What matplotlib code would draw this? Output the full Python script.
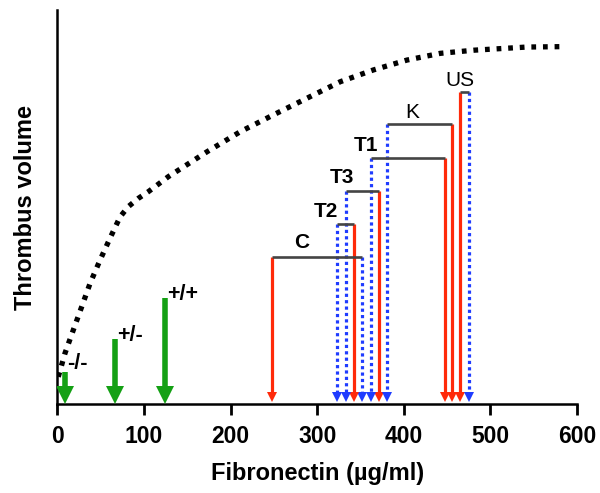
import numpy as np
import matplotlib
matplotlib.use('Agg')
import matplotlib.pyplot as plt

plt.rcParams['font.family'] = ['Liberation Sans', 'DejaVu Sans']

# dotted black curve (fibronectin vs thrombus volume)
curve_x = [0.9, 8.7, 18.3, 28, 37.6, 49.1, 60.7, 72.3, 81.8, 93.4, 105, 128,
           172.5, 211, 249.5, 288, 326.6, 365, 403.7, 442, 481, 542, 581]
curve_y = [6.9, 12.9, 18.8, 24.7, 30.6, 36.5, 42.1, 47.5, 50.1, 52.2, 53.9, 57.7,
           64, 69.1, 73.4, 77.6, 81.8, 84.8, 87.3, 89, 89.8, 90.6, 90.7]

# green arrows (genotypes)
geno_labels = ['-/-', '+/-', '+/+']
geno_x = [9, 67, 124]
geno_top = [8.2, 16.4, 27]
geno_label_x = [11, 69, 126.5]
geno_label_y = [10.4, 17.3, 27.7]

# paired red (solid) and blue (dotted) arrows joined by a black bar
pair_labels = ['C', 'T2', 'T3', 'T1', 'K', 'US']
pair_bold = [True, True, True, True, False, False]
red_x = [248, 342, 371, 447, 456, 465]
blue_x = [352, 323, 333, 362, 381, 475]
bar_y = [37.4, 45.7, 54.1, 62.5, 71, 79.1]
label_x = [282, 309.5, 328.3, 356.8, 409.6, 465.1]
label_y = [40.9, 48.8, 57.4, 65.7, 73.9, 82.2]

red = '#ff2a0a'
blue = '#1f3cff'
green = '#14a014'

fig = plt.figure(figsize=(6, 4.93), dpi=100)
ax = fig.add_axes([0.0958, 0.1805, 0.8659, 0.7992])

ax.plot(curve_x, curve_y, color='black', lw=3.8, linestyle=(0, (0.9, 1.3)),
        dash_capstyle='butt', solid_capstyle='butt', zorder=2)

head = 1.8
for x, top, lab, lx, ly in zip(geno_x, geno_top, geno_labels, geno_label_x, geno_label_y):
    ax.plot([x, x], [top, 4.5], color=green, lw=4, solid_capstyle='butt', zorder=3)
    ax.plot([x], [2.3], marker='v', ms=12.5, color=green, mec=green, mew=0, zorder=3)
    ax.text(lx, ly, lab, ha='left', va='center', fontsize=15.5, fontweight='bold')

for i in range(len(pair_labels)):
    rx, bx, y = red_x[i], blue_x[i], bar_y[i]
    ax.plot([rx, bx], [y, y], color='#444444', lw=1.9, solid_capstyle='butt', zorder=4)
    ax.plot([rx, rx], [y, 3], color=red, lw=2.3, solid_capstyle='butt', zorder=3)
    ax.plot([bx, bx], [y, 3], color=blue, lw=2.3, linestyle=(0, (1, 1)),
            dash_capstyle='butt', zorder=3)
    ax.plot([rx], [head], marker='v', ms=7.5, color=red, mew=0, zorder=5)
    ax.plot([bx], [head], marker='v', ms=7.5, color=blue, mew=0, zorder=5)
    ax.text(label_x[i], label_y[i], pair_labels[i], ha='center', va='center',
            fontsize=15, fontweight='bold' if pair_bold[i] else 'normal')

ax.set_xlim(0, 600)
ax.set_ylim(0, 100)
ax.set_xticks(np.arange(0, 601, 100))
ax.set_yticks([])
for lab in ax.get_xticklabels():
    lab.set_fontweight('bold')
ax.tick_params(axis='x', length=8, width=2, labelsize=16.5, pad=7)
ax.spines['top'].set_visible(False)
ax.spines['right'].set_visible(False)
ax.spines['left'].set_linewidth(1.8)
ax.spines['bottom'].set_linewidth(1.8)

ax.set_xlabel('Fibronectin (µg/ml)', fontsize=17, fontweight='bold', labelpad=10)
ax.set_ylabel('Thrombus volume', fontsize=17, fontweight='bold', labelpad=15)

fig.savefig('out.png', dpi=100)
